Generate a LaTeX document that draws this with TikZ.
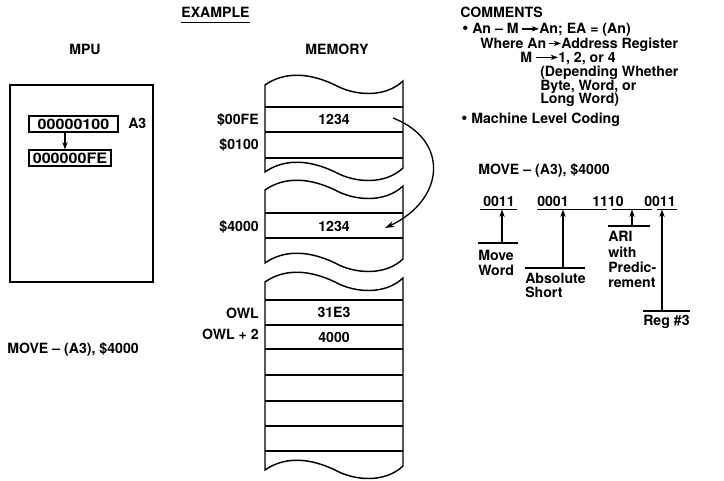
\documentclass[tikz,border=0pt]{standalone}
\usepackage{fontspec}
\setmainfont{TeX Gyre Heros}
\newfontfamily\regfont[FakeStretch=1.12]{TeX Gyre Heros}
\usetikzlibrary{arrows.meta,calc}
\tikzset{
  txt/.style={inner sep=0pt, anchor=base west},
  txtr/.style={inner sep=0pt, anchor=base east},
  txtc/.style={inner sep=0pt, anchor=base},
  regbox/.style={draw, line width=0.9pt, inner sep=0pt, minimum height=12pt, font=\regfont\bfseries\fontsize{10.8}{13}\selectfont},
  arr/.style={-{Stealth[length=5.5pt,width=4pt]}, line width=1pt},
  thin/.style={line width=0.9pt}
}
\newcommand\bul{{\fontsize{13}{13}\selectfont\textbullet}}
\newcommand\memblock[2]{%
  \draw[line width=1.1pt] (265,#1) .. controls (285,{#1-14}) and (310,{#1-12}) .. (335,#1)
     .. controls (355,{#1+11}) and (385,{#1+13}) .. (403,{#1-4})
     -- (403,{#2-4}) .. controls (385,{#2+13}) and (355,{#2+11}) .. (335,#2)
     .. controls (310,{#2-12}) and (285,{#2-14}) .. (265,#2) -- cycle;}
\begin{document}
\begin{tikzpicture}[x=0.75pt,y=-0.75pt,font=\bfseries\fontsize{10.6}{13}\selectfont]
\useasboundingbox (0,0) rectangle (724,481);

% headings
\node[txtc] (ex) at (215.5,18) {EXAMPLE};
\draw[thin] ([yshift=-3.4pt]ex.base west) -- ([yshift=-3.4pt]ex.base east);
\node[txtc] (mpu) at (85,55) {MPU};
\node[txtc] (mem) at (337,55) {MEMORY};

% MPU box
\node[draw, line width=1.1pt, minimum width=107.25pt, minimum height=147.75pt, inner sep=0pt] (mpubox) at (81.5,183.5) {};
\node[regbox, minimum width=66.75pt] (r1) at (73.5,124) {00000100};
\node[txt] (a3) at (128,129) {A3};
\node[regbox, minimum width=61.5pt] (r2) at (70,158) {000000FE};
\draw[arr] ([xshift=-6.375pt]r1.south) -- ([xshift=-3.75pt]r2.north);

\node[txt] (instr) at (7,353) {MOVE – (A3), \$4000};

% memory blocks
\memblock{85}{172}
\draw[thin] (265,107) -- (403,107);
\draw[thin] (265,132) -- (403,132);
\draw[thin] (265,158) -- (403,158);
\memblock{190}{263}
\draw[thin] (265,213) -- (403,213);
\draw[thin] (265,238) -- (403,238);
\memblock{282}{470}
\foreach \yy in {300,325,349,375,401,426,451} {\draw[thin] (265,\yy) -- (403,\yy);}

\node[txtc] (m1) at (334,125) {1234};
\node[txtc] (m2) at (334,231) {1234};
\node[txtc] (m3) at (334,317.5) {31E3};
\node[txtc] (m4) at (334,342) {4000};

\node[txtr] (l1) at (259,125) {\$00FE};
\node[txtr] (l2) at (259,150) {\$0100};
\node[txtr] (l3) at (259,231) {\$4000};
\node[txtr] (l4) at (259,318) {OWL};
\node[txtr] (l5) at (259,339) {OWL + 2};

\coordinate (arcS) at (393,118);
\coordinate (arcE) at (385,228);
\draw[-{Stealth[length=7pt,width=4.5pt]}, line width=1pt] (arcS) .. controls (450,140) and (445,200) .. (arcE);

% comments
\node[txt] (c0) at (460,17.5) {COMMENTS};
\node[txt] (c1a) at (462,34) {\bul\ An – M};
\node[txt] (c1b) at (539,34) {An; EA = (An)};
\draw[arr] ([xshift=2pt]c1a.east) -- (c1a.east -| c1b.west);
\node[txt] (c2a) at (480,48.5) {Where An};
\node[txt] (c2b) at (561,48.5) {Address Register};
\draw[arr] ([xshift=1.5pt]c2a.east) -- (c2a.east -| c2b.west);
\node[txt] (c3a) at (520,62.5) {M};
\node[txt] (c3b) at (558,62.5) {1, 2, or 4};
\draw[arr] ([xshift=3pt]c3a.east) -- (c3a.east -| c3b.west);
\node[txt] (c4) at (540,77) {(Depending Whether};
\node[txt] (c5) at (540,90.5) {Byte, Word, or};
\node[txt] (c6) at (540,104) {Long Word)};
\node[txt] (c7) at (461,124) {\bul\ Machine Level Coding};
\node[txt] (c8) at (478,175) {MOVE – (A3), \$4000};

% machine code
\node[txt] (d1) at (483,206.5) {0011};
\node[txt] (d2) at (537,206.5) {0001};
\node[txt] (d3) at (592,206.5) {1110};
\node[txt] (d4) at (644,206.5) {0011};
\coordinate (u1) at (502,209.5);
\coordinate (u2) at (563,209.5);
\coordinate (u3) at (632,209.5);
\coordinate (u4) at (662,209.5);
\draw[thin] (480,209.5) -- (517,209.5);
\draw[thin] (537,209.5) -- (607,209.5);
\draw[thin] (612,209.5) -- (652,209.5);
\draw[thin] (657,209.5) -- (677,209.5);

\coordinate (b1) at (502,243);
\coordinate (b2) at (563,268);
\coordinate (b3) at (632,226);
\coordinate (b4) at (662,311);
\draw[thin] (478,243) -- (518,243);
\draw[thin] (525,268) -- (585,268);
\draw[thin] (608,226) -- (650,226);
\draw[thin] (643,311) -- (690,311);
\draw[arr] (b1) -- (u1);
\draw[arr] (b2) -- (u2);
\draw[arr] (b3) -- (u3);
\draw[arr] (b4) -- (u4);

\node[txt] (w1) at (478,260) {Move};
\node[txt] (w2) at (478,275) {Word};
\node[txt] (s1) at (525,283) {Absolute};
\node[txt] (s2) at (525,297) {Short};
\node[txt] (p1) at (608,241) {ARI};
\node[txt] (p2) at (608,257) {with};
\node[txt] (p3) at (608,272) {Predic-};
\node[txt] (p4) at (608,287) {rement};
\node[txt] (rg) at (643,325) {Reg \#3};
\end{tikzpicture}
\end{document}
